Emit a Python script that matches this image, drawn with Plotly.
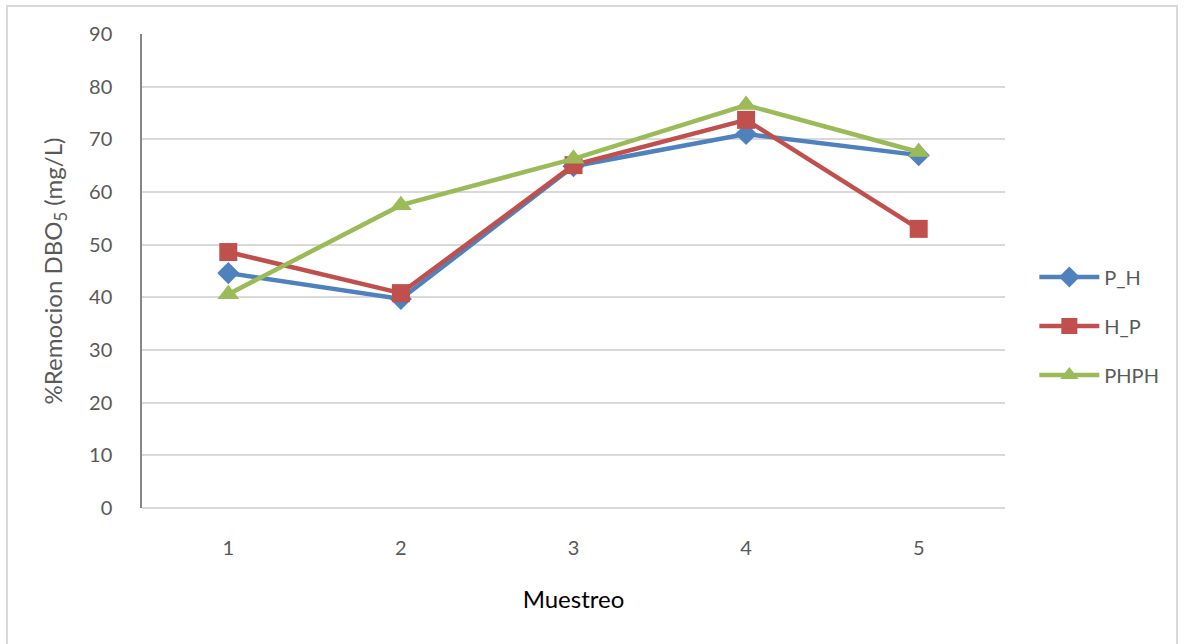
import plotly.graph_objects as go

muestreo = [1, 2, 3, 4, 5]
p_h = [44.6, 39.7, 64.9, 71.0, 67.0]
h_p = [48.6, 40.8, 65.1, 73.7, 53.0]
phph = [40.6, 57.5, 66.3, 76.5, 67.6]

series = [
    ("P_H", p_h, "#4F81BD", "diamond", 17),
    ("H_P", h_p, "#C0504D", "square", 18),
    ("PHPH", phph, "#9BBB59", "triangle-up", 19),
]

fig = go.Figure()
for i, (name, vals, col, sym, sz) in enumerate(series):
    fig.add_trace(go.Scatter(
        x=muestreo, y=vals, name=name, mode="lines+markers",
        line=dict(color=col, width=4.5),
        marker=dict(symbol=sym, size=sz, color=col),
        legendgroup=f"g{i}",
    ))

font_family = "Lato, 'Open Sans', sans-serif"

fig.update_layout(
    width=1184, height=644,
    margin=dict(l=142, r=179, t=34, b=136),
    paper_bgcolor="white", plot_bgcolor="white",
    font=dict(family=font_family, color="#595959", size=20),
    showlegend=True,
    legend=dict(
        x=1.034, y=0.384, xanchor="left", yanchor="middle",
        font=dict(size=20, color="#595959"),
        tracegroupgap=20, itemwidth=60,
        bgcolor="rgba(0,0,0,0)",
    ),
    xaxis=dict(
        range=[0.5, 5.5], tickvals=muestreo, ticktext=[str(v) for v in muestreo],
        showgrid=False, zeroline=False, showline=False, ticks="",
        ticklabelstandoff=26,
        tickfont=dict(size=20, color="#595959"),
        title=dict(text="Muestreo", font=dict(size=24, color="#000000"), standoff=33),
    ),
    yaxis=dict(
        range=[0, 90], dtick=10, tick0=0,
        showgrid=True, gridcolor="#D9D9D9", gridwidth=1.5,
        zeroline=True, zerolinecolor="#D9D9D9", zerolinewidth=1.5,
        showline=True, linecolor="#868686", linewidth=1.5,
        ticks="", ticklabelstandoff=24,
        tickfont=dict(size=20, color="#595959"),
        title=dict(text="%Remocion DBO<sub>5</sub> (mg/L)", font=dict(size=24, color="#595959"), standoff=20),
    ),
)

fig.add_shape(type="rect", xref="paper", yref="paper",
              x0=(7 - 142) / 863, x1=(1177 - 142) / 863,
              y0=(508 - 648) / 474, y1=(508 - 6) / 474,
              line=dict(color="#D9D9D9", width=2), fillcolor="rgba(0,0,0,0)", layer="below")

fig.write_html(
    "out.html",
    config={"displayModeBar": False},
    post_script="document.body.style.margin='0px';document.body.style.overflow='hidden';",
)
